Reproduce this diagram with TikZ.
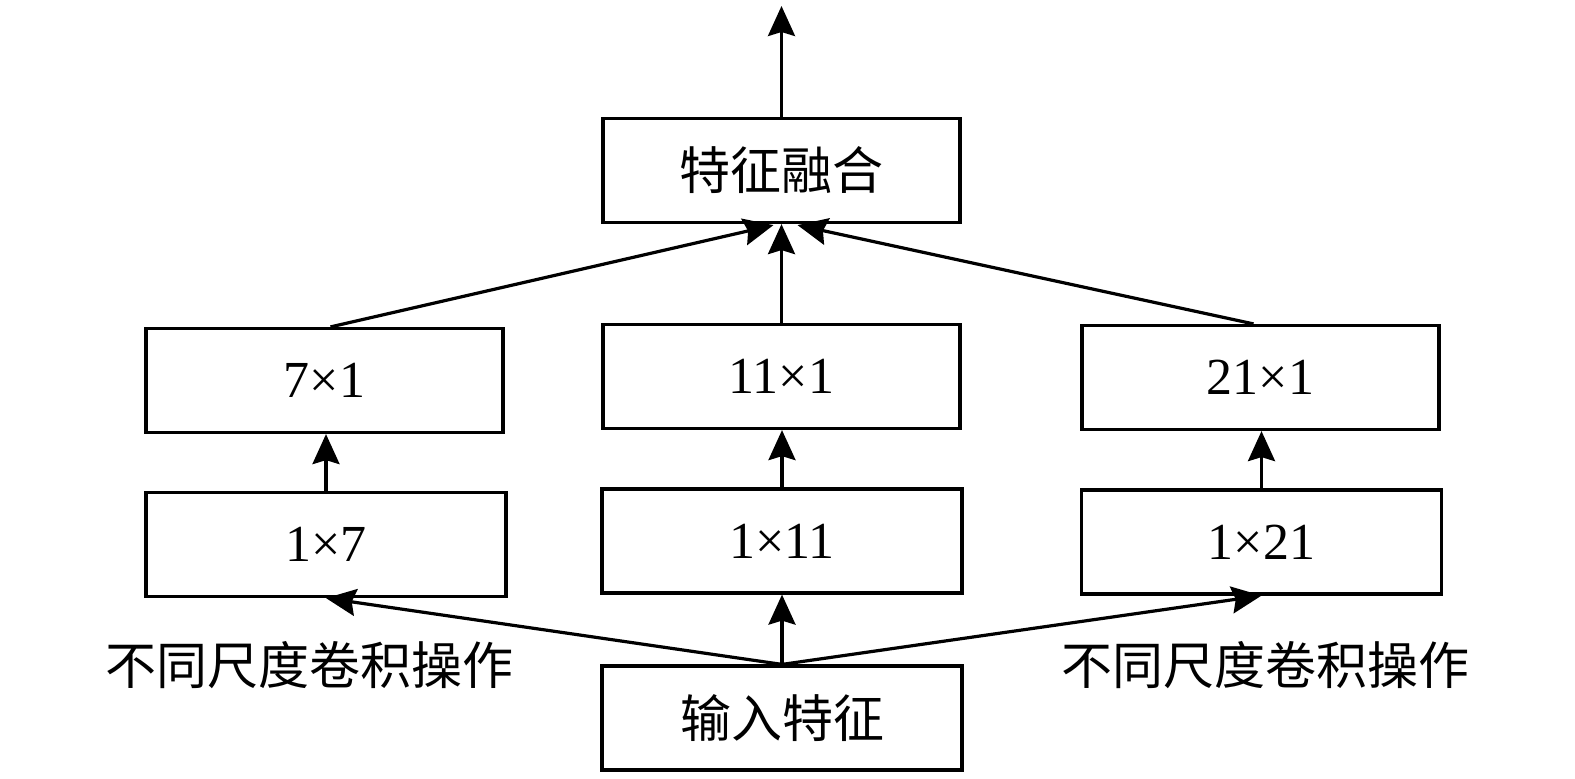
\documentclass[tikz,border=0pt]{standalone}
\usepackage{fontspec}
\setmainfont{Liberation Serif}
\newfontfamily\cjk{Noto Sans CJK SC}
\usetikzlibrary{arrows.meta,calc}
\begin{document}
\begin{tikzpicture}[x=0.5pt,y=-0.5pt,
  box/.style={draw,line width=1.6pt,minimum width=178.5pt,minimum height=52pt,inner sep=0pt,font=\fontsize{26}{30}\selectfont},
  lbl/.style={inner sep=0pt,font=\fontsize{25.5}{30}\selectfont\cjk},
  arr/.style={line width=1.6pt,-{Stealth[length=15pt,width=13.5pt,inset=2pt]}}]
\useasboundingbox (0,0) rectangle (1575,778);
\node[box,font=\fontsize{25.5}{30}\selectfont\cjk] (fuse) at (781.5,170.5) {特征融合};
\node[box] (b71) at (324.5,380.5) {7×1};
\node[box] (b111) at (781.5,376.5) {11×1};
\node[box] (b211) at (1260.5,377.5) {21×1};
\node[box,minimum width=180pt] (b17) at (326,544.5) {1×7};
\node[box,minimum width=180pt] (b111b) at (782,541) {1×11};
\node[box,minimum width=180pt] (b121) at (1261.5,542) {1×21};
\node[box,minimum width=180pt,font=\fontsize{25.5}{30}\selectfont\cjk] (in) at (782,718) {输入特征};
\node[lbl] (l1) at (309,665) {不同尺度卷积操作};
\node[lbl] (l2) at (1265,665) {不同尺度卷积操作};
\coordinate (out) at (778,6);
\draw[arr] (fuse.north) -- (fuse.north |- out);
\draw[arr] ($(b71.north)+(6,0)$) -- ($(fuse.south)+(-8,1)$);
\draw[arr] (b111.north) -- (fuse.south);
\draw[arr] ($(b211.north)+(-7,0)$) -- ($(fuse.south)+(16,1)$);
\draw[arr] (b17.north) -- (b17.north |- b71.south);
\draw[arr] (b111b.north) -- (b111b.north |- b111.south);
\draw[arr] (b121.north) -- (b121.north |- b211.south);
\draw[arr] (in.north) -- (b17.south);
\draw[arr] (in.north) -- (b111b.south);
\draw[arr] (in.north) -- (b121.south);
\end{tikzpicture}
\end{document}
